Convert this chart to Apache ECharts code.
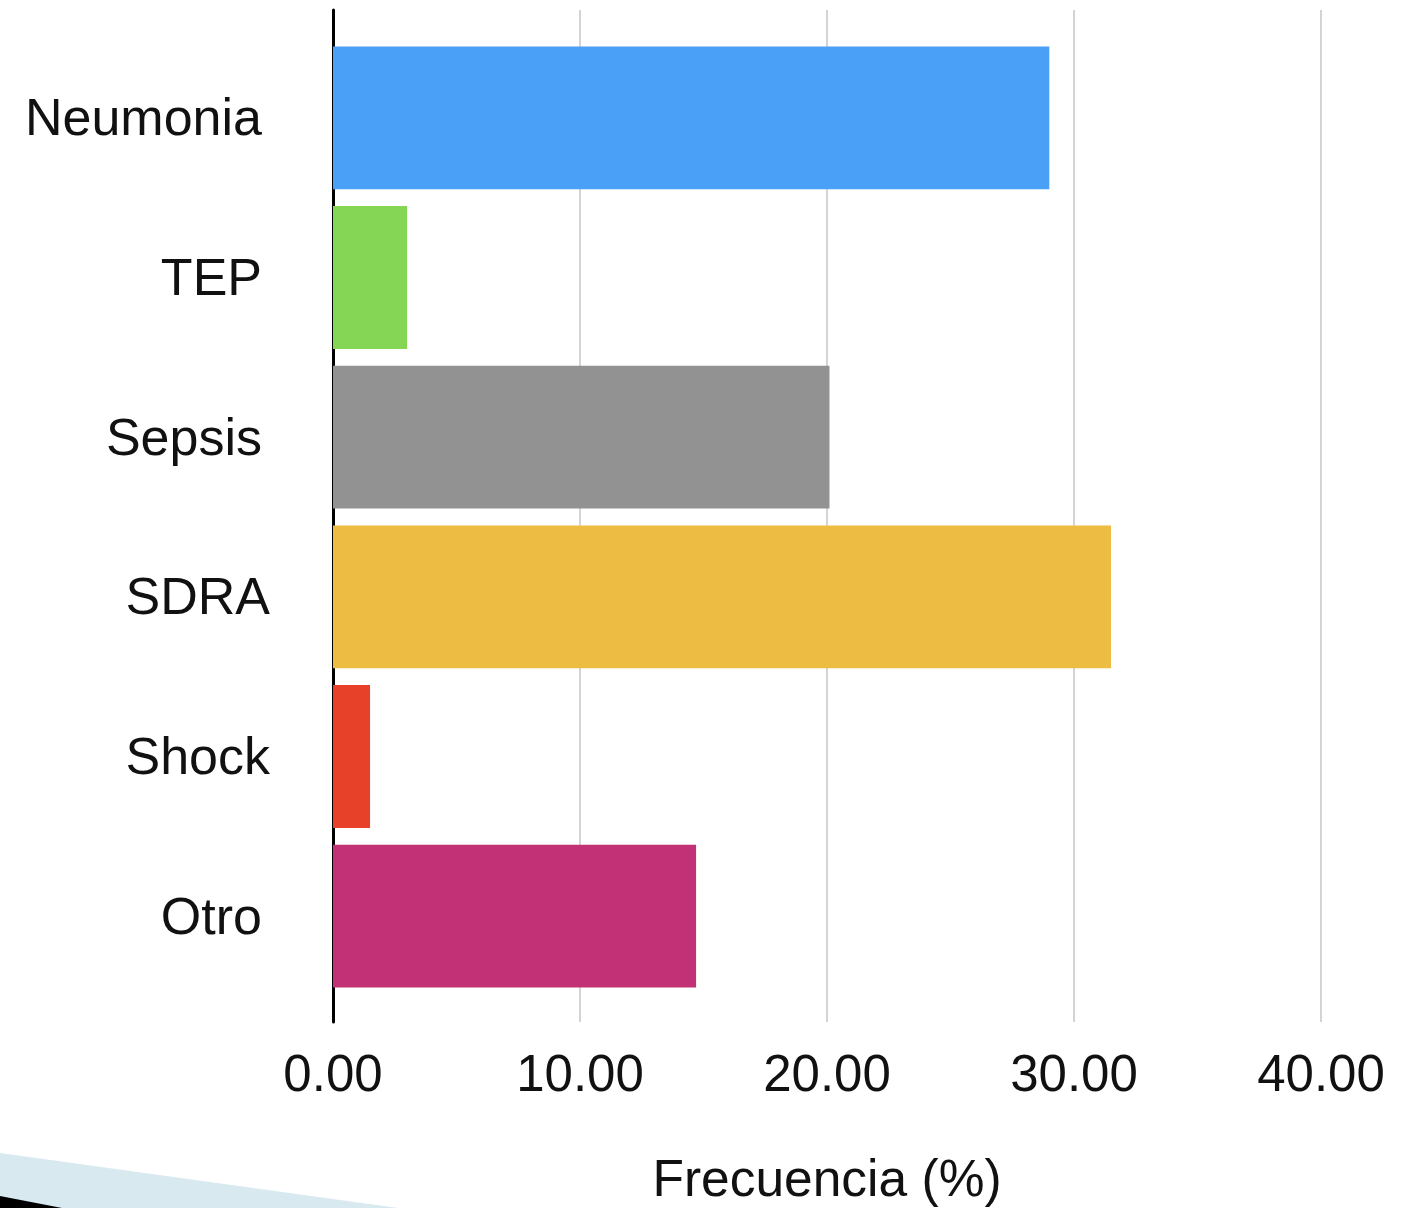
<!DOCTYPE html>
<html>
<head>
<meta charset="utf-8">
<script src="https://cdn.jsdelivr.net/npm/echarts@6/dist/echarts.min.js"></script>
<style>
html,body{margin:0;padding:0;background:#fff;}
#chart{width:1415px;height:1208px;}
</style>
</head>
<body>
<div id="chart"></div>
<script>
var categories = ['Neumonia', 'TEP', 'Sepsis', 'SDRA', 'Shock', 'Otro'];
var values = [29.0, 3.0, 20.1, 31.5, 1.5, 14.7];
var barColors = ['#4A9FF6', '#86D656', '#929292', '#EDBD43', '#E8412A', '#C23175'];
var xTicks = [0, 10, 20, 30, 40];
var xTitle = 'Frecuencia (%)';

var FONT = '"Liberation Sans", Arial, Helvetica, sans-serif';
var chart = echarts.init(document.getElementById('chart'));

var wideLabels = {'SDRA': true, 'Shock': true};

chart.setOption({
  animation: false,
  backgroundColor: '#ffffff',
  grid: [
    {left: 333, right: 94, top: 10, height: 1012, containLabel: false, outerBoundsMode: 'none'},
    {left: 333, right: 94, top: 38, height: 958, containLabel: false, outerBoundsMode: 'none'}
  ],
  xAxis: [
    {
      gridIndex: 0, type: 'value', min: xTicks[0], max: xTicks[xTicks.length - 1], interval: 10,
      axisLine: {show: false}, axisTick: {show: false},
      splitLine: {show: true, lineStyle: {color: '#c6c6c6', width: 1.5}},
      axisLabel: {
        margin: 29, fontSize: 51, color: '#111', fontFamily: FONT,
        formatter: function (v) { return v.toFixed(2); }
      },
      name: xTitle, nameLocation: 'middle', nameGap: 134, nameMoveOverlap: false,
      nameTextStyle: {fontSize: 51.5, color: '#111', fontFamily: FONT}
    },
    {
      gridIndex: 1, type: 'value', min: xTicks[0], max: xTicks[xTicks.length - 1], show: false
    }
  ],
  yAxis: [
    {
      gridIndex: 0, type: 'value', min: 0, max: 1,
      axisLine: {show: true, lineStyle: {color: '#000', width: 3}},
      axisTick: {show: false}, axisLabel: {show: false}, splitLine: {show: false}
    },
    {
      gridIndex: 1, type: 'category', data: categories, inverse: true,
      axisLine: {show: false}, axisTick: {show: false},
      axisLabel: {
        margin: 63, fontSize: 52, color: '#111', fontFamily: FONT,
        formatter: function (v) { return wideLabels[v] ? '{w|' + v + '}' : '{n|' + v + '}'; },
        rich: {
          w: {fontSize: 52, color: '#111', fontFamily: FONT, padding: [6, 0, 0, 0]},
          n: {fontSize: 52, color: '#111', fontFamily: FONT, padding: [6, 8, 0, 0]}
        }
      }
    }
  ],
  series: [{
    type: 'bar',
    xAxisIndex: 1, yAxisIndex: 1,
    barCategoryGap: '10.5%',
    data: values.map(function (v, i) { return {value: v, itemStyle: {color: barColors[i]}}; })
  }],
  graphic: [
    {type: 'polygon', z: -1, shape: {points: [[0, 1153], [398, 1208], [0, 1208]]}, style: {fill: '#D8E9F0'}},
    {type: 'polygon', z: 0, shape: {points: [[0, 1196], [62, 1208], [0, 1208]]}, style: {fill: '#000'}}
  ]
});
</script>
</body>
</html>
